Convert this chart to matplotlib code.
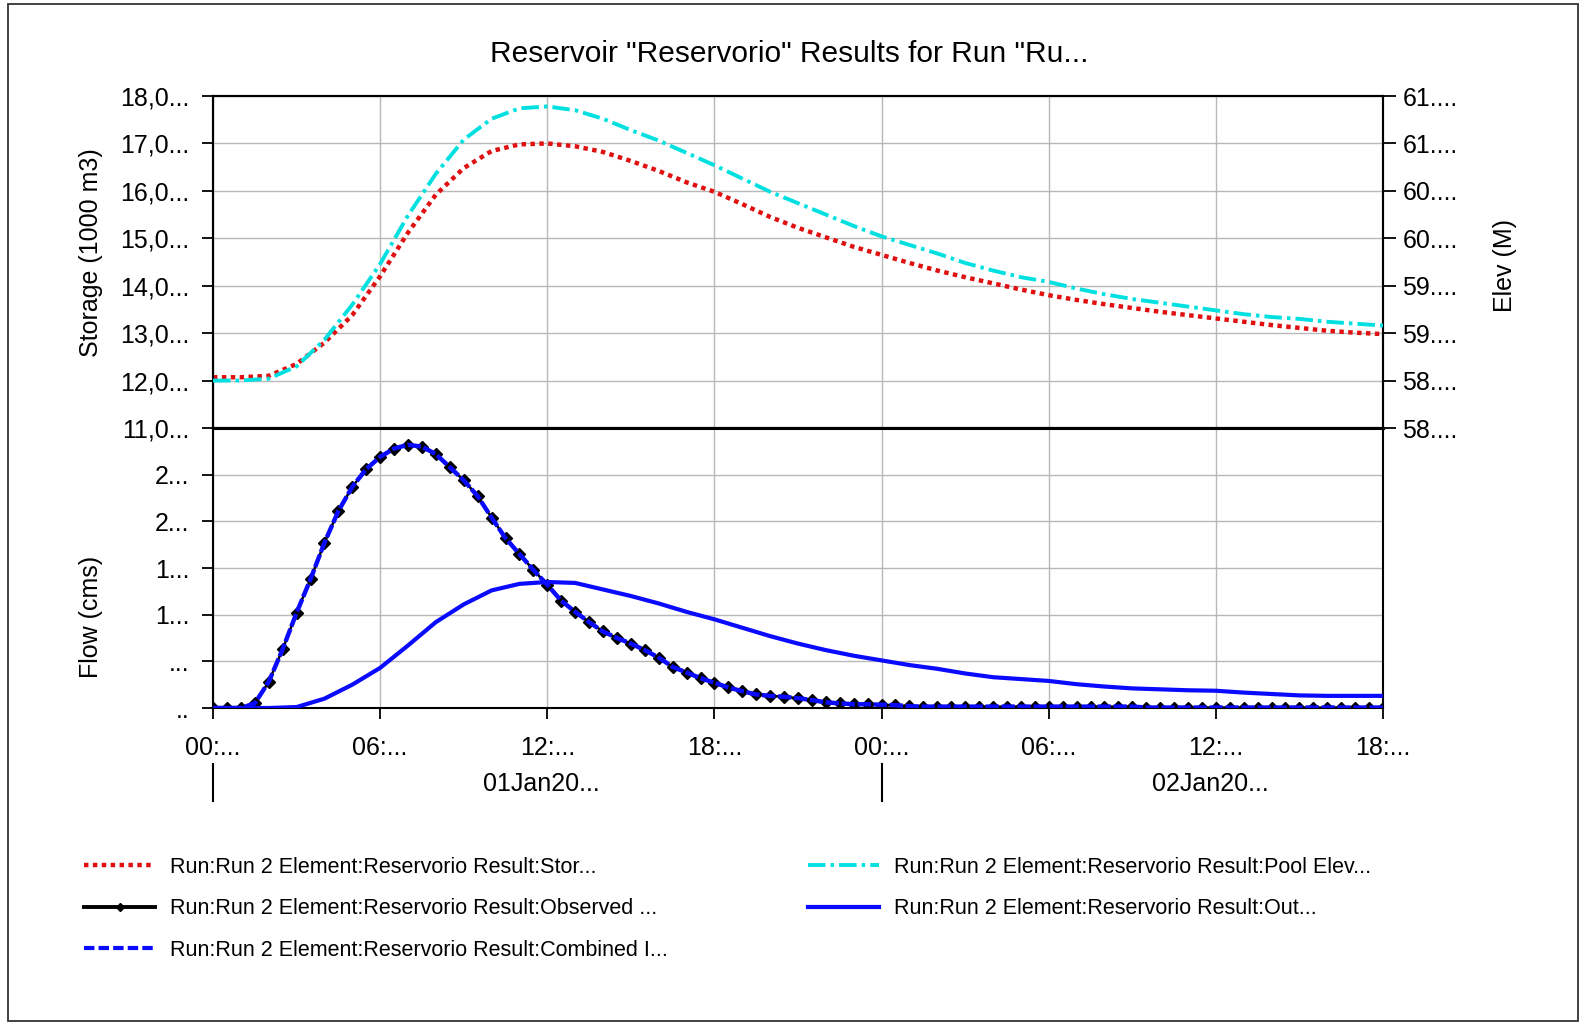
import numpy as np
import matplotlib.pyplot as plt
from matplotlib.patches import Rectangle
from matplotlib.lines import Line2D
import matplotlib.transforms as mtransforms

plt.rcParams['font.family'] = ['Liberation Sans', 'DejaVu Sans']

# hourly time axis (hours since 00:00 01Jan)
hours = np.arange(0, 43)
# half-hourly time axis for the observed / inflow series
hours_half = np.arange(0, 42.5, 0.5)

# storage (1000 m3), hourly
storage = [12.07, 12.07, 12.10, 12.35, 12.80, 13.38, 14.20, 15.12, 15.92, 16.48,
           16.84, 16.98, 17.00, 16.94, 16.82, 16.63, 16.42, 16.18, 15.98, 15.72,
           15.45, 15.22, 15.02, 14.82, 14.65, 14.48, 14.32, 14.18, 14.05, 13.92,
           13.80, 13.70, 13.61, 13.53, 13.45, 13.38, 13.31, 13.24, 13.17, 13.11,
           13.05, 13.01, 12.98]

# pool elevation (m), hourly
elev = [58.50, 58.50, 58.52, 58.65, 58.93, 59.30, 59.73, 60.24, 60.68, 61.04,
        61.26, 61.37, 61.39, 61.35, 61.26, 61.14, 61.03, 60.90, 60.77, 60.63,
        60.49, 60.37, 60.25, 60.13, 60.02, 59.93, 59.84, 59.74, 59.66, 59.59,
        59.54, 59.47, 59.41, 59.36, 59.32, 59.28, 59.24, 59.20, 59.17, 59.15,
        59.12, 59.10, 59.08]

# observed inflow (cms), every 30 min
observed = [0.0, 0.0, 0.0, 0.05, 0.28, 0.63, 1.02, 1.38, 1.77, 2.11,
            2.37, 2.56, 2.69, 2.78, 2.82, 2.80, 2.72, 2.58, 2.44, 2.27,
            2.04, 1.82, 1.65, 1.48, 1.32, 1.15, 1.03, 0.92, 0.82, 0.75,
            0.69, 0.62, 0.54, 0.44, 0.38, 0.32, 0.27, 0.22, 0.18, 0.145,
            0.13, 0.12, 0.105, 0.085, 0.06, 0.05, 0.04, 0.04, 0.035, 0.03,
            0.02, 0.015, 0.015, 0.015, 0.015, 0.015, 0.015, 0.015, 0.015, 0.015,
            0.015, 0.015, 0.015, 0.015, 0.015, 0.015, 0.015, 0.005, 0.005, 0.005,
            0.005, 0.005, 0.005, 0.005, 0.005, 0.005, 0.005, 0.005, 0.005, 0.005,
            0.005, 0.005, 0.005, 0.005, 0.005]

# combined inflow (cms), every 30 min
inflow = [0.0, 0.0, 0.0, 0.05, 0.28, 0.63, 1.02, 1.38, 1.77, 2.11,
          2.37, 2.56, 2.69, 2.78, 2.82, 2.80, 2.72, 2.58, 2.44, 2.27,
          2.04, 1.82, 1.65, 1.48, 1.32, 1.15, 1.03, 0.92, 0.82, 0.75,
          0.69, 0.62, 0.54, 0.44, 0.38, 0.32, 0.27, 0.22, 0.18, 0.145,
          0.13, 0.12, 0.105, 0.085, 0.06, 0.05, 0.04, 0.04, 0.035, 0.03,
          0.02, 0.015, 0.015, 0.015, 0.015, 0.015, 0.015, 0.015, 0.015, 0.015,
          0.015, 0.015, 0.015, 0.015, 0.015, 0.015, 0.015, 0.005, 0.005, 0.005,
          0.005, 0.005, 0.005, 0.005, 0.005, 0.005, 0.005, 0.005, 0.005, 0.005,
          0.005, 0.005, 0.005, 0.005, 0.005]

# outflow (cms), hourly
outflow = [0.0, 0.0, 0.0, 0.01, 0.10, 0.25, 0.43, 0.67, 0.92, 1.11,
           1.26, 1.33, 1.35, 1.34, 1.27, 1.20, 1.12, 1.03, 0.95, 0.86,
           0.77, 0.69, 0.62, 0.56, 0.51, 0.46, 0.42, 0.37, 0.33, 0.31,
           0.29, 0.255, 0.23, 0.21, 0.20, 0.19, 0.185, 0.165, 0.15, 0.135,
           0.13, 0.13, 0.13]

x_ticks = [0, 6, 12, 18, 24, 30, 36, 42]
x_labels = ['00:...', '06:...', '12:...', '18:...', '00:...', '06:...', '12:...', '18:...']
day_pos = [11.8, 35.8]
day_labels = ['01Jan20...', '02Jan20...']
day_bounds = [0, 24]

stor_ticks = [11, 12, 13, 14, 15, 16, 17, 18]
stor_labels = ['11,0...', '12,0...', '13,0...', '14,0...', '15,0...', '16,0...', '17,0...', '18,0...']
elev_ticks = [58.0, 58.5, 59.0, 59.5, 60.0, 60.5, 61.0, 61.5]
elev_labels = ['58....', '58....', '59....', '59....', '60....', '60....', '61....', '61....']
flow_ticks = [0, 0.5, 1.0, 1.5, 2.0, 2.5]
flow_labels = ['..', '...', '1...', '1...', '2...', '2...']

W, H = 1586, 1025
fig = plt.figure(figsize=(W / 100, H / 100), dpi=100)

def fx(px):
    return px / W

def fy(py):
    return 1 - py / H

left, right = 213, 1383
top_t, top_b, bot_b = 96, 428, 708
ax1 = fig.add_axes([fx(left), fy(top_b), fx(right - left), fy(top_t) - fy(top_b)])
ax3 = fig.add_axes([fx(left), fy(bot_b), fx(right - left), fy(top_b) - fy(bot_b)], sharex=ax1)
ax2 = ax1.twinx()

grid_c = '#b8b8b8'
fs = 18

# --- top panel: storage + elevation
ax1.plot(hours, storage, color='#e01010', lw=3.2, linestyle=(0, (1, 1.0)), zorder=3)
ax2.plot(hours, elev, color='#00e0e0', lw=2.8, linestyle=(0, (4.5, 1.3, 0.9, 1.3)), zorder=3)
ax1.set_ylim(11, 18)
ax2.set_ylim(58.0, 61.5)
ax1.set_yticks(stor_ticks)
ax1.set_yticklabels(stor_labels)
ax2.set_yticks(elev_ticks)
ax2.set_yticklabels(elev_labels)
ax1.grid(True, color=grid_c, lw=1)
ax1.tick_params(axis='x', length=0, labelbottom=False)
ax1.tick_params(axis='y', direction='out', length=8, width=1.3, pad=9, labelsize=fs)
ax2.tick_params(axis='y', direction='out', length=9, width=1.3, pad=5, labelsize=fs)

# --- bottom panel: flows
ax3.plot(hours_half, observed, color='black', lw=1.8, marker='D', ms=6, zorder=3)
ax3.plot(hours_half, inflow, color='#0a0aff', lw=3.2, linestyle=(0, (3, 0.6)), zorder=4)
ax3.plot(hours, outflow, color='#0a0aff', lw=3.0, zorder=4)
ax3.set_ylim(0, 3.0)
ax3.set_yticks(flow_ticks)
ax3.set_yticklabels(flow_labels)
ax3.set_xlim(0, 42)
ax3.set_xticks(x_ticks)
ax3.set_xticklabels(x_labels)
ax3.grid(True, color=grid_c, lw=1)
ax3.tick_params(axis='y', direction='out', length=8, width=1.3, pad=9, labelsize=fs)
ax3.tick_params(axis='x', direction='out', length=8, width=1.3, pad=12, labelsize=fs)

for ax in (ax1, ax2, ax3):
    for s in ax.spines.values():
        s.set_linewidth(1.5)
        s.set_color('black')
ax1.spines['bottom'].set_linewidth(2.2)
ax3.spines['top'].set_linewidth(2.2)

# second row of x labels (dates) and day boundary marks
trans = mtransforms.blended_transform_factory(ax3.transData, fig.transFigure)
for p, lab in zip(day_pos, day_labels):
    fig.text(p, fy(784), lab, transform=trans, ha='center', va='center', fontsize=fs)
for b in day_bounds:
    fig.add_artist(Line2D([b, b], [fy(764), fy(801)], transform=trans, color='black', lw=1.5))

# titles / axis labels
fig.text(fx(789), fy(54), 'Reservoir "Reservorio" Results for Run "Ru...', ha='center', va='center', fontsize=21.5)
fig.text(fx(91), fy(253), 'Storage (1000 m3)', rotation=90, ha='center', va='center', fontsize=fs)
fig.text(fx(91), fy(617), 'Flow (cms)', rotation=90, ha='center', va='center', fontsize=fs)
fig.text(fx(1505), fy(265), 'Elev (M)', rotation=90, ha='center', va='center', fontsize=fs)

# legends
h_stor = Line2D([], [], color='#e01010', lw=3.2, linestyle=(0, (1, 1.0)))
h_obs = Line2D([], [], color='black', lw=2.8, marker='D', ms=4.5, markevery=[1])
h_inf = Line2D([], [], color='#0a0aff', lw=3, linestyle=(0, (2.5, 1)))
h_elev = Line2D([], [], color='#00e0e0', lw=2.8, linestyle=(0, (4.5, 1.3, 0.9, 1.3)))
h_out = Line2D([], [], color='#0a0aff', lw=3.0)
lab_pre = 'Run:Run 2 Element:Reservorio Result:'
leg_kw = dict(frameon=False, fontsize=15.5, handlelength=3.3, handletextpad=0.7,
              labelspacing=0.95, borderaxespad=0, borderpad=0, loc='upper left')
fig.legend([h_stor, h_obs, h_inf],
           [lab_pre + 'Stor...', lab_pre + 'Observed ...', lab_pre + 'Combined I...'],
           bbox_to_anchor=(fx(84), fy(857)), **leg_kw)
fig.legend([h_elev, h_out],
           [lab_pre + 'Pool Elev...', lab_pre + 'Out...'],
           bbox_to_anchor=(fx(808), fy(857)), **leg_kw)

# outer frame
fig.add_artist(Rectangle((fx(8), fy(1021)), fx(1570), fy(4) - fy(1021), transform=fig.transFigure,
                         fill=False, edgecolor='#333333', lw=1.3))

fig.savefig('out.png', dpi=100)
